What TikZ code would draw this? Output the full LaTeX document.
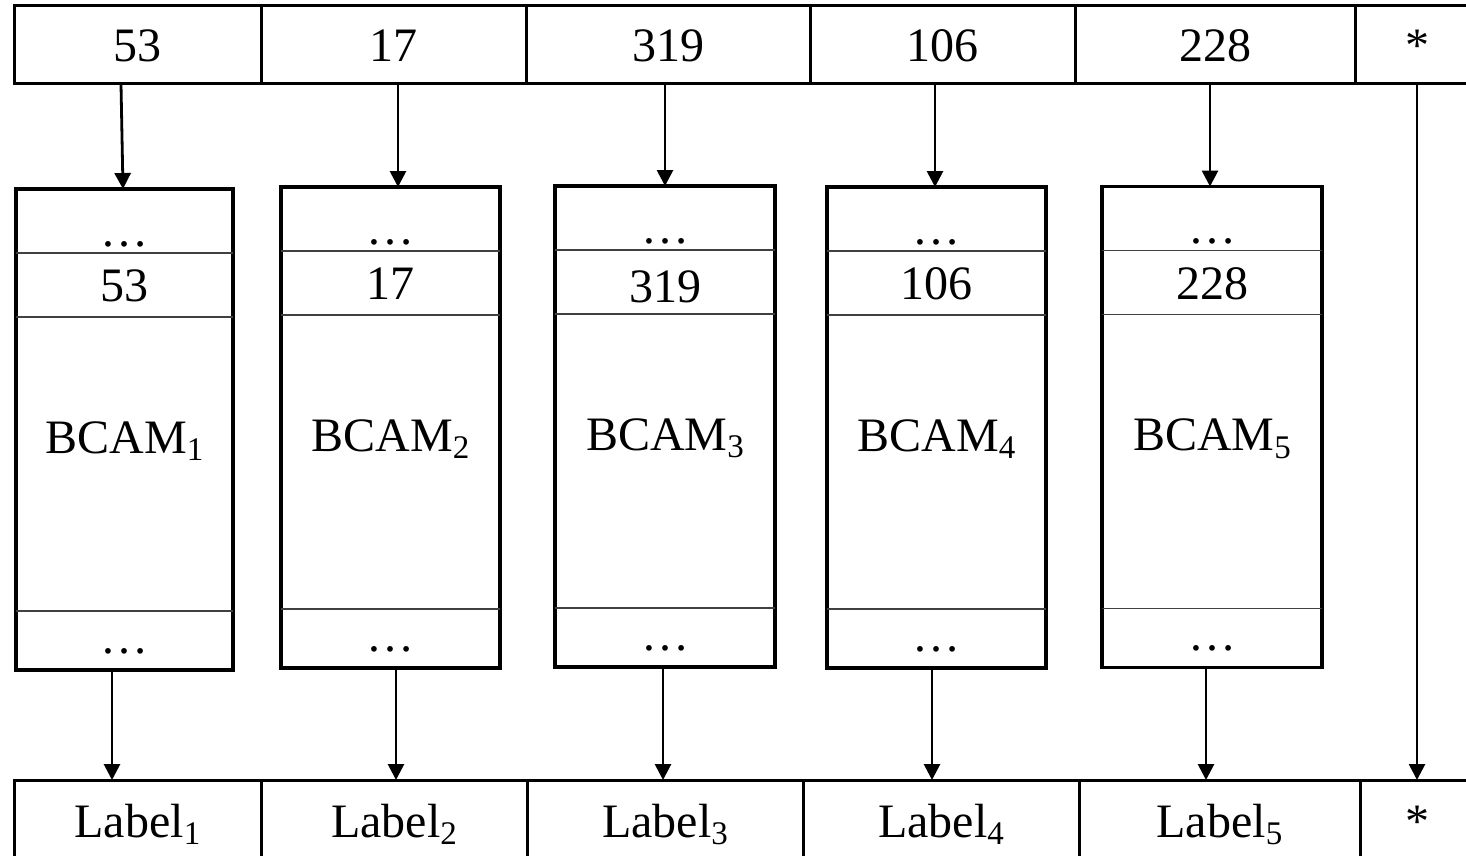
\documentclass[tikz,border=0pt]{standalone}
\usepackage{fontspec}
\setmainfont{Liberation Serif}
\usetikzlibrary{arrows.meta}
% lowered, smaller index digit
\newcommand{\idx}[1]{\raisebox{-7.5pt}{\fontsize{33}{33}\selectfont #1}}
\begin{document}
\begin{tikzpicture}[x=1pt,y=-1pt,
  every node/.style={font=\fontsize{48}{56}\selectfont},
  cell/.style={draw, line width=3pt, inner sep=0pt, outer sep=0pt,
    text height=34pt, text depth=0pt},
  topcell/.style={cell, minimum height=78pt},
  botcell/.style={cell, minimum height=80pt},
  bcambox/.style={draw, line width=3.2pt, inner sep=0pt, outer sep=0pt,
    minimum width=219pt, minimum height=481pt},
  divider/.style={line width=1.4pt, draw=black!75},
  txt/.style={inner sep=0pt, anchor=base},
  arr/.style={line width=2.8pt, -{Triangle[length=16pt,width=16pt]}}]
\useasboundingbox (0,0) rectangle (1466,856);

% input key row
\node[topcell, minimum width=247pt] (t1) at (137.5,45) {53};
\node[topcell, minimum width=265pt] (t2) at (393.5,45) {17};
\node[topcell, minimum width=284pt] (t3) at (668,45)   {319};
\node[topcell, minimum width=265pt] (t4) at (942.5,45) {106};
\node[topcell, minimum width=280pt] (t5) at (1215,45)  {228};
\node[topcell, minimum width=124pt] (t6) at (1417,45)  {*};

% output label row
\node[botcell, minimum width=247pt] (l1) at (137.5,820) {Label\idx{1}};
\node[botcell, minimum width=266pt] (l2) at (394,820)   {Label\idx{2}};
\node[botcell, minimum width=276pt] (l3) at (665,820)   {Label\idx{3}};
\node[botcell, minimum width=276pt] (l4) at (941,820)   {Label\idx{4}};
\node[botcell, minimum width=281pt] (l5) at (1219.5,820){Label\idx{5}};
\node[botcell, minimum width=114pt] (l6) at (1417,820)  {*};

% BCAM blocks with their entries
\foreach \i/\x/\y/\w/\v/\k in {1/124.5/429.5/217/53/112, 2/390.5/427.5/219/17/112,
    3/665/426.5/220/319/116, 4/936.5/427.5/219/106/112, 5/1212/427/220/228/113}{
  \node[bcambox, minimum width=\w pt] (b\i) at (\x,\y) {};
  \draw[divider] ([yshift=-64pt]b\i.north west) -- ([yshift=-64pt]b\i.north east);
  \draw[divider] ([yshift=-128pt]b\i.north west) -- ([yshift=-128pt]b\i.north east);
  \draw[divider] ([yshift=59pt]b\i.south west) -- ([yshift=59pt]b\i.south east);
  \node[txt] (b\i-top) at ([yshift=-57pt]b\i.north) {…};
  \node[txt] (b\i-key) at ([yshift=-\k pt]b\i.north) {\v};
  \node[txt] (b\i-name) at ([yshift=-264pt]b\i.north) {BCAM\idx{\i}};
  \node[txt] (b\i-bot) at ([yshift=17pt]b\i.south) {…};
}

% key lookups into each BCAM
\draw[arr] ([xshift=-16.5pt]t1.south) -- ([xshift=-1.5pt]b1.north);
\draw[arr] ([xshift=4.5pt]t2.south)   -- ([xshift=7.5pt]b2.north);
\draw[arr] ([xshift=-3pt]t3.south)    -- (b3.north);
\draw[arr] ([xshift=-7.5pt]t4.south)  -- ([xshift=-1.5pt]b4.north);
\draw[arr] ([xshift=-5pt]t5.south)    -- ([xshift=-2pt]b5.north);

% BCAM results to labels
\draw[arr] ([xshift=-12.5pt]b1.south) -- ([xshift=-25.5pt]l1.north);
\draw[arr] ([xshift=5.5pt]b2.south)   -- ([xshift=2pt]l2.north);
\draw[arr] ([xshift=-2pt]b3.south)    -- ([xshift=-2pt]l3.north);
\draw[arr] ([xshift=-4.5pt]b4.south)  -- ([xshift=-9pt]l4.north);
\draw[arr] ([xshift=-6pt]b5.south)    -- ([xshift=-13.5pt]l5.north);

% wildcard passes straight through
\draw[arr] (t6.south) -- (l6.north);
\end{tikzpicture}
\end{document}
